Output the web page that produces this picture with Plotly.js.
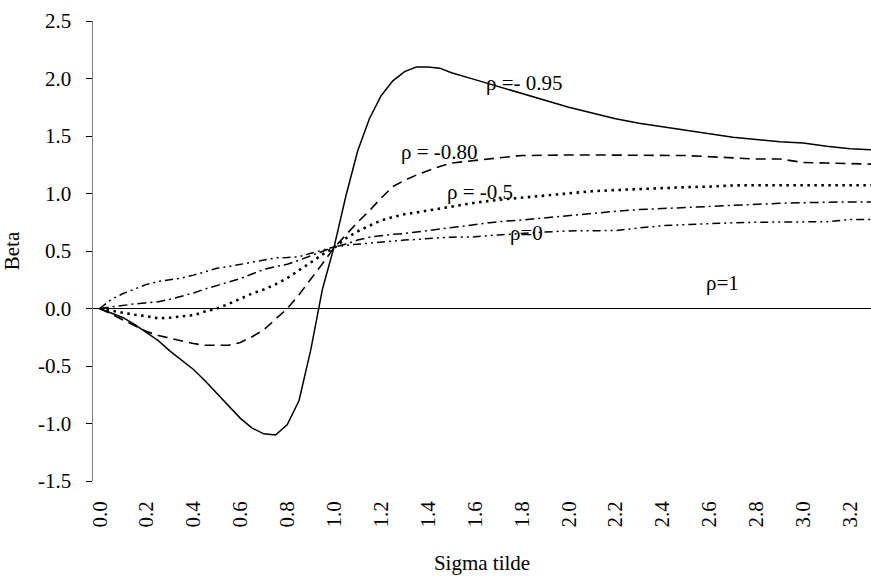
<!DOCTYPE html>
<html>
<head>
<meta charset="utf-8">
<script src="https://cdn.plot.ly/plotly-3.0.1.min.js"></script>
<style>html,body{margin:0;padding:0;background:#fff}#chart{width:871px;height:577px}</style>
</head>
<body>
<div id="chart"></div>
<script>
// Sigma tilde values (x)
var sigmaTilde = [0,0.05,0.1,0.15,0.2,0.25,0.3,0.35,0.4,0.45,0.5,0.55,0.6,0.65,0.7,0.75,0.8,0.85,0.9,0.95,1.0,1.05,1.1,1.15,1.2,1.25,1.3,1.35,1.4,1.45,1.5,
  1.6,1.7,1.8,1.9,2.0,2.1,2.2,2.3,2.4,2.5,2.6,2.7,2.8,2.9,3.0,3.1,3.2,3.3];

// Beta for each rho
var betaRhoM095 = [0,-0.04,-0.08,-0.14,-0.21,-0.28,-0.37,-0.45,-0.53,-0.63,-0.74,-0.85,-0.955,-1.04,-1.09,-1.10,-1.01,-0.80,-0.36,0.17,0.54,0.98,1.37,1.65,1.85,1.98,2.06,2.10,2.10,2.09,2.05,
  1.99,1.93,1.87,1.81,1.75,1.70,1.65,1.61,1.58,1.55,1.52,1.49,1.47,1.45,1.44,1.41,1.39,1.38];
var betaRhoM080 = [0,-0.05,-0.10,-0.155,-0.20,-0.235,-0.26,-0.285,-0.305,-0.32,-0.32,-0.32,-0.295,-0.245,-0.185,-0.09,0.0,0.12,0.25,0.39,0.53,0.64,0.75,0.85,0.96,1.06,1.115,1.16,1.20,1.235,1.265,
  1.29,1.31,1.33,1.335,1.335,1.335,1.335,1.335,1.33,1.33,1.32,1.31,1.30,1.30,1.27,1.265,1.26,1.255];
var betaRhoM050 = [0,-0.02,-0.04,-0.055,-0.067,-0.085,-0.08,-0.067,-0.058,-0.025,0.0,0.04,0.085,0.13,0.165,0.21,0.265,0.33,0.40,0.47,0.53,0.61,0.67,0.72,0.765,0.795,0.82,0.835,0.852,0.87,0.885,
  0.92,0.945,0.965,0.985,1.0,1.02,1.03,1.04,1.05,1.055,1.06,1.07,1.072,1.072,1.072,1.072,1.072,1.072];
var betaRho0 = [0,0.015,0.03,0.04,0.05,0.058,0.08,0.105,0.135,0.17,0.20,0.23,0.26,0.30,0.34,0.365,0.385,0.42,0.46,0.50,0.535,0.56,0.595,0.62,0.635,0.645,0.652,0.665,0.68,0.695,0.705,
  0.735,0.755,0.77,0.79,0.81,0.83,0.845,0.86,0.87,0.88,0.89,0.90,0.91,0.915,0.92,0.925,0.927,0.927];
var betaRho1 = [0,0.08,0.13,0.17,0.21,0.235,0.25,0.265,0.29,0.32,0.35,0.365,0.385,0.405,0.425,0.44,0.443,0.45,0.48,0.51,0.535,0.55,0.56,0.57,0.58,0.588,0.595,0.60,0.61,0.615,0.62,
  0.623,0.64,0.655,0.665,0.675,0.675,0.678,0.70,0.72,0.73,0.74,0.745,0.75,0.752,0.753,0.755,0.774,0.774];

var seriesNames = ['ρ = -0.95','ρ = -0.80','ρ = -0.5','ρ = 0','ρ = 1'];

// Label texts and their anchor points (data coordinates)
var labelTexts = ['ρ =- 0.95','ρ = -0.80','ρ = -0.5','ρ=0','ρ=1'];
var labelX = [1.81,1.45,1.62,1.82,2.655];
var labelY = [1.96,1.365,1.015,0.66,0.225];

var xTickVals = [0,0.2,0.4,0.6,0.8,1.0,1.2,1.4,1.6,1.8,2.0,2.2,2.4,2.6,2.8,3.0,3.2];
var xTickText = ['0.0','0.2','0.4','0.6','0.8','1.0','1.2','1.4','1.6','1.8','2.0','2.2','2.4','2.6','2.8','3.0','3.2'];
var yTickVals = [-1.5,-1.0,-0.5,0,0.5,1.0,1.5,2.0,2.5];
var yTickText = ['-1.5','-1.0','-0.5','0.0','0.5','1.0','1.5','2.0','2.5'];

var FONT = "'Liberation Serif', 'DejaVu Serif', serif";
var FS = 21;
var series = [betaRhoM095, betaRhoM080, betaRhoM050, betaRho0, betaRho1];
var styles = [
  {color:'#000', width:1.5, dash:'solid'},
  {color:'#000', width:1.6, dash:'10px,6px'},
  {color:'#000', width:2.6, dash:'2.5px,4.5px'},
  {color:'#000', width:1.5, dash:'9px,4px,2px,4px'},
  {color:'#000', width:1.5, dash:'8px,4px,2px,4px,2px,4px'}
];
var traces = series.map(function(ys, i){
  return {x: sigmaTilde, y: ys, type:'scatter', mode:'lines', name: seriesNames[i],
          line: styles[i], hoverinfo:'x+y+name'};
});

var annotations = labelTexts.map(function(t, i){
  return {x: labelX[i], y: labelY[i], xref:'x', yref:'y', text: t, showarrow:false,
          font:{family:FONT, size:FS, color:'#000'}};
});

var layout = {
  width: 871, height: 577,
  margin: {l:93, r:0, t:21, b:96, pad:0},
  paper_bgcolor:'#fff', plot_bgcolor:'#fff',
  showlegend: false,
  font: {family: FONT, size: FS, color:'#000'},
  xaxis: {
    range: [-0.0286, 3.289],
    tickvals: xTickVals, ticktext: xTickText, tickangle: -90,
    ticks: '', showgrid: false, zeroline: false, showline: false,
    ticklabelstandoff: 15,
    tickfont: {family: FONT, size: FS, color:'#000'},
    title: {text: 'Sigma tilde', font:{family:FONT, size:FS, color:'#000'}, standoff: 28},
    fixedrange: true
  },
  yaxis: {
    range: [-1.5, 2.5],
    tickvals: yTickVals, ticktext: yTickText,
    ticks: 'outside', ticklen: 6, tickwidth: 1, tickcolor:'#000',
    showgrid: false, showline: true, linecolor:'#808080', linewidth: 1.5,
    zeroline: true, zerolinecolor:'#000', zerolinewidth: 1,
    ticklabelstandoff: 10,
    tickfont: {family: FONT, size: FS, color:'#000'},
    title: {text: 'Beta', font:{family:FONT, size:FS, color:'#000'}, standoff: 16},
    fixedrange: true
  },
  annotations: annotations
};

Plotly.newPlot('chart', traces, layout, {displayModeBar:false, staticPlot:true});
</script>
</body>
</html>
